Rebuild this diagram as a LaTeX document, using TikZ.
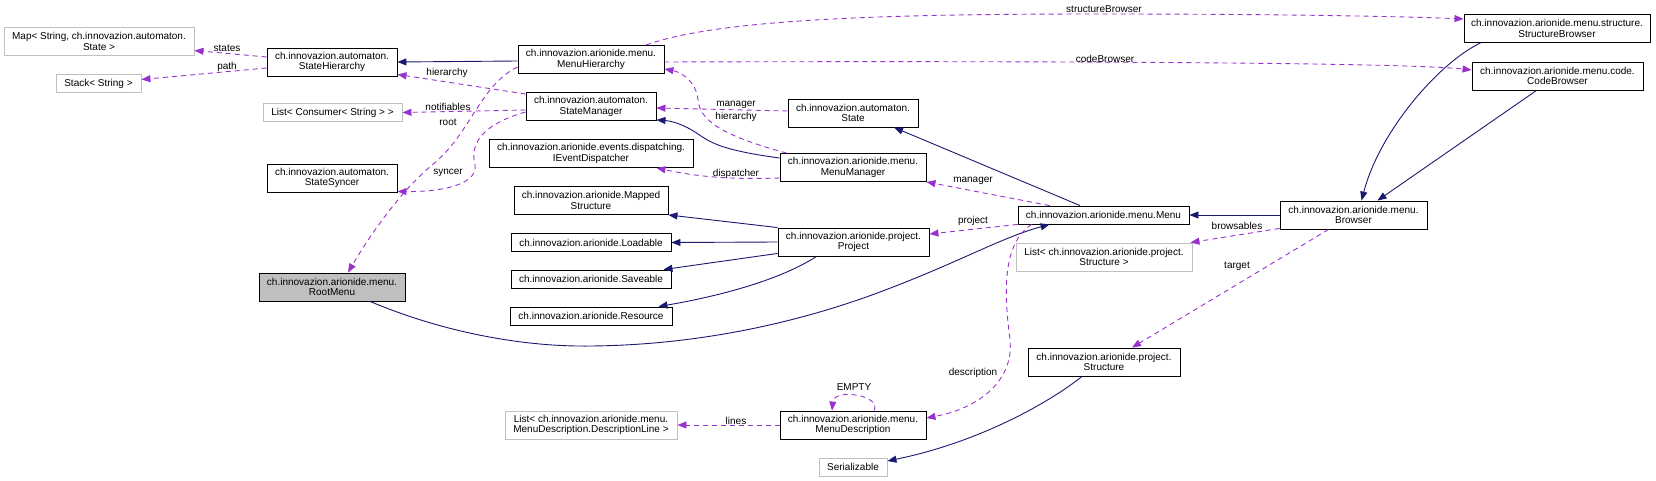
\documentclass[tikz,border=0pt]{standalone}
\usepackage{fontspec}
\setmainfont{Liberation Sans}
\usetikzlibrary{arrows.meta,calc}
\definecolor{edgeblue}{RGB}{25,25,112}
\definecolor{edgeorchid}{RGB}{153,50,204}
\definecolor{boxgray}{RGB}{191,191,191}
\tikzset{
	cls/.style={draw=black, fill=white, line width=0.9pt, inner sep=0pt, align=center, minimum height=28pt, font=\fontsize{10}{10.5}\selectfont},
	ext/.style={cls, draw=boxgray},
	one/.style={minimum height=18pt},
	inh/.style={edgeblue, line width=0.9pt, ->},
	usage/.style={edgeorchid, line width=0.9pt, dash pattern=on 5pt off 4pt, ->},
	lbl/.style={font=\fontsize{10}{10.5}\selectfont, inner sep=0pt}
}
\begin{document}
\begin{tikzpicture}[x=1pt, y=-1pt, >={Triangle[length=9pt, width=7pt]}]
	\useasboundingbox (0,0) rectangle (1656,481);
	% 1. 各类的方框（按像素坐标放置）
	\node[ext, minimum width=190pt] (map) at (99,41.5) {Map< String, ch.innovazion.automaton.\\State >};
	\node[ext, one, minimum width=85pt] (stack) at (98.5,83.5) {Stack< String >};
	\node[cls, minimum width=130pt] (shier) at (332,62) {ch.innovazion.automaton.\\StateHierarchy};
	\node[ext, one, minimum width=139pt] (consumer) at (332.5,112.5) {List< Consumer< String > >};
	\node[cls, minimum width=130pt] (ssync) at (332,178) {ch.innovazion.automaton.\\StateSyncer};
	\node[cls, fill=boxgray, minimum width=146pt] (rootmenu) at (332,287) {ch.innovazion.arionide.menu.\\RootMenu};
	\node[cls, minimum width=146pt] (mhier) at (591,59.5) {ch.innovazion.arionide.menu.\\MenuHierarchy};
	\node[cls, minimum width=130pt] (smgr) at (591,106.5) {ch.innovazion.automaton.\\StateManager};
	\node[cls, minimum width=204pt] (disp) at (591,153.5) {ch.innovazion.arionide.events.dispatching.\\IEventDispatcher};
	\node[cls, minimum width=154pt] (mapped) at (591,200.5) {ch.innovazion.arionide.Mapped\\Structure};
	\node[cls, one, minimum width=160pt] (load) at (591,242.5) {ch.innovazion.arionide.Loadable};
	\node[cls, one, minimum width=160pt] (save) at (591,279) {ch.innovazion.arionide.Saveable};
	\node[cls, one, minimum width=162pt] (res) at (591,316) {ch.innovazion.arionide.Resource};
	\node[ext, minimum width=172pt] (dlist) at (591,425) {List< ch.innovazion.arionide.menu.\\MenuDescription.DescriptionLine >};
	\node[cls, minimum width=130pt] (state) at (853,113) {ch.innovazion.automaton.\\State};
	\node[cls, minimum width=146pt] (mmgr) at (853,167.5) {ch.innovazion.arionide.menu.\\MenuManager};
	\node[cls, minimum width=151pt] (proj) at (853.5,242) {ch.innovazion.arionide.project.\\Project};
	\node[cls, minimum width=146pt] (mdesc) at (853,425) {ch.innovazion.arionide.menu.\\MenuDescription};
	\node[ext, one, minimum width=68pt] (serial) at (853,467) {Serializable};
	\node[cls, one, minimum width=171pt] (menu) at (1103.5,215) {ch.innovazion.arionide.menu.Menu};
	\node[ext, minimum width=176pt] (blist) at (1104,257) {List< ch.innovazion.arionide.project.\\Structure >};
	\node[cls, minimum width=152pt] (struct) at (1104,362) {ch.innovazion.arionide.project.\\Structure};
	\node[cls, minimum width=147pt] (browser) at (1353.5,215) {ch.innovazion.arionide.menu.\\Browser};
	\node[cls, minimum width=186pt] (sbrowser) at (1557,28.5) {ch.innovazion.arionide.menu.structure.\\StructureBrowser};
	\node[cls, minimum width=171pt] (cbrowser) at (1557.5,76) {ch.innovazion.arionide.menu.code.\\CodeBrowser};
	
	% 2. 继承关系（深蓝实线）
	\draw[inh] ($(mhier.west)+(0,1.5)$) -- (shier.east);
	\draw[inh] ($(mmgr.west)+(0,-9.5)$) .. controls (720,150) and (710,142) .. (698,134) .. controls (685,125) and (672,121) .. ($(smgr.south east)+(0,-1)$);
	\draw[inh] ($(menu.north)+(-23.5,0)$) -- ($(state.south)+(41,0)$);
	\draw[inh] (proj.north west) -- (mapped.south east);
	\draw[inh] (proj.west) -- (load.east);
	\draw[inh] ($(proj.south west)+(0,-3)$) -- ($(save.north east)+(-8,0)$);
	\draw[inh] ($(proj.south)+(-37,0)$) .. controls (780,280) and (720,296) .. ($(res.north east)+(-14,0)$);
	\draw[inh] ($(rootmenu.south)+(38,0)$) .. controls (450,335) and (530,347) .. (591,346) .. controls (700,345) and (800,322) .. (880,292) .. controls (960,262) and (1000,238) .. ($(menu.south west)+(32,0)$);
	\draw[inh] (browser.west) -- (menu.east);
	\draw[inh] ($(sbrowser.south west)+(17,0)$) .. controls (1440,62) and (1380,130) .. ($(browser.north)+(8,0)$);
	\draw[inh] ($(cbrowser.south)+(-21,0)$) -- ($(browser.north)+(24,0)$);
	\draw[inh] ($(struct.south)+(-22,0)$) .. controls (1050,402) and (980,442) .. ($(serial.east)+(0,-6)$);
	
	% 3. 成员引用（紫色虚线）
	\draw[usage] ($(mhier.west)+(0,7.5)$) .. controls (480,85) and (470,135) .. (432,165) .. controls (400,192) and (370,235) .. ($(rootmenu.north)+(16,0)$);
	\draw[usage] ($(smgr.north west)+(0,2)$) -- ($(shier.south east)+(0,-2)$);
	\draw[usage] ($(smgr.west)+(0,3.5)$) -- (consumer.east);
	\draw[usage] ($(smgr.west)+(0,5.5)$) .. controls (480,125) and (470,145) .. (475,165) .. controls (478,185) and (440,192) .. ($(ssync.south east)+(0,-1)$);
	\draw[usage] ($(shier.west)+(0,-5)$) -- ($(map.east)+(0,9)$);
	\draw[usage] ($(shier.west)+(0,6)$) -- ($(stack.east)+(0,-4)$);
	\draw[usage] ($(mhier.north)+(55,0)$) .. controls (720,18) and (900,14) .. (1100,14) .. controls (1300,14) and (1420,17) .. ($(sbrowser.west)+(0,-9.5)$);
	\draw[usage] ($(mhier.east)+(0,2.5)$) .. controls (1000,61) and (1400,62) .. ($(cbrowser.west)+(0,-6)$);
	\draw[usage] ($(state.west)+(0,-2)$) -- ($(smgr.east)+(0,1.5)$);
	\draw[usage] ($(mmgr.north west)+(7,0)$) .. controls (720,135) and (700,120) .. (698,100) .. controls (696,80) and (680,72) .. ($(mhier.south east)+(0,-5)$);
	\draw[usage] ($(mmgr.west)+(0,10.5)$) .. controls (720,180) and (690,175) .. ($(disp.south east)+(-37,0)$);
	\draw[usage] ($(menu.north west)+(32,0)$) -- (mmgr.south east);
	\draw[usage] (menu.south west) -- ($(proj.east)+(0,-8)$);
	\draw[usage] ($(menu.south west)+(14,0)$) .. controls (1000,245) and (1005,300) .. (1010,340) .. controls (1014,380) and (980,408) .. ($(mdesc.east)+(0,-7)$);
	\draw[usage] ($(mdesc.north)+(21,0)$) .. controls (882,395) and (834,388) .. ($(mdesc.north)+(-21,0)$);
	\draw[usage] (mdesc.west) -- (dlist.east);
	\draw[usage] ($(browser.south west)+(0,-1)$) -- ($(blist.north east)+(-2,0)$);
	\draw[usage] ($(browser.south)+(-25,0)$) -- ($(struct.north)+(28,0)$);
	
	% 4. 引用名称
	\node[lbl] (lstates) at (227,48) {states};
	\node[lbl] (lpath) at (227,67) {path};
	\node[lbl] (lhier) at (447,73) {hierarchy};
	\node[lbl] (lnotif) at (448,107) {notifiables};
	\node[lbl] (lroot) at (448,122) {root};
	\node[lbl] (lsync) at (448,173) {syncer};
	\node[lbl] (lsbrowser) at (1104,9) {structureBrowser};
	\node[lbl] (lcbrowser) at (1105,59) {codeBrowser};
	\node[lbl] (lmgr) at (736,105) {manager};
	\node[lbl] (lmhier) at (736,117) {hierarchy};
	\node[lbl] (ldisp) at (736,174) {dispatcher};
	\node[lbl] (lmmgr) at (973,181) {manager};
	\node[lbl] (lproj) at (973,221) {project};
	\node[lbl] (lbrows) at (1237,226) {browsables};
	\node[lbl] (ltarget) at (1237,266) {target};
	\node[lbl] (ldesc) at (973,373) {description};
	\node[lbl] (lempty) at (854,387) {EMPTY};
	\node[lbl] (llines) at (736,421) {lines};
	
\end{tikzpicture}
\end{document}
